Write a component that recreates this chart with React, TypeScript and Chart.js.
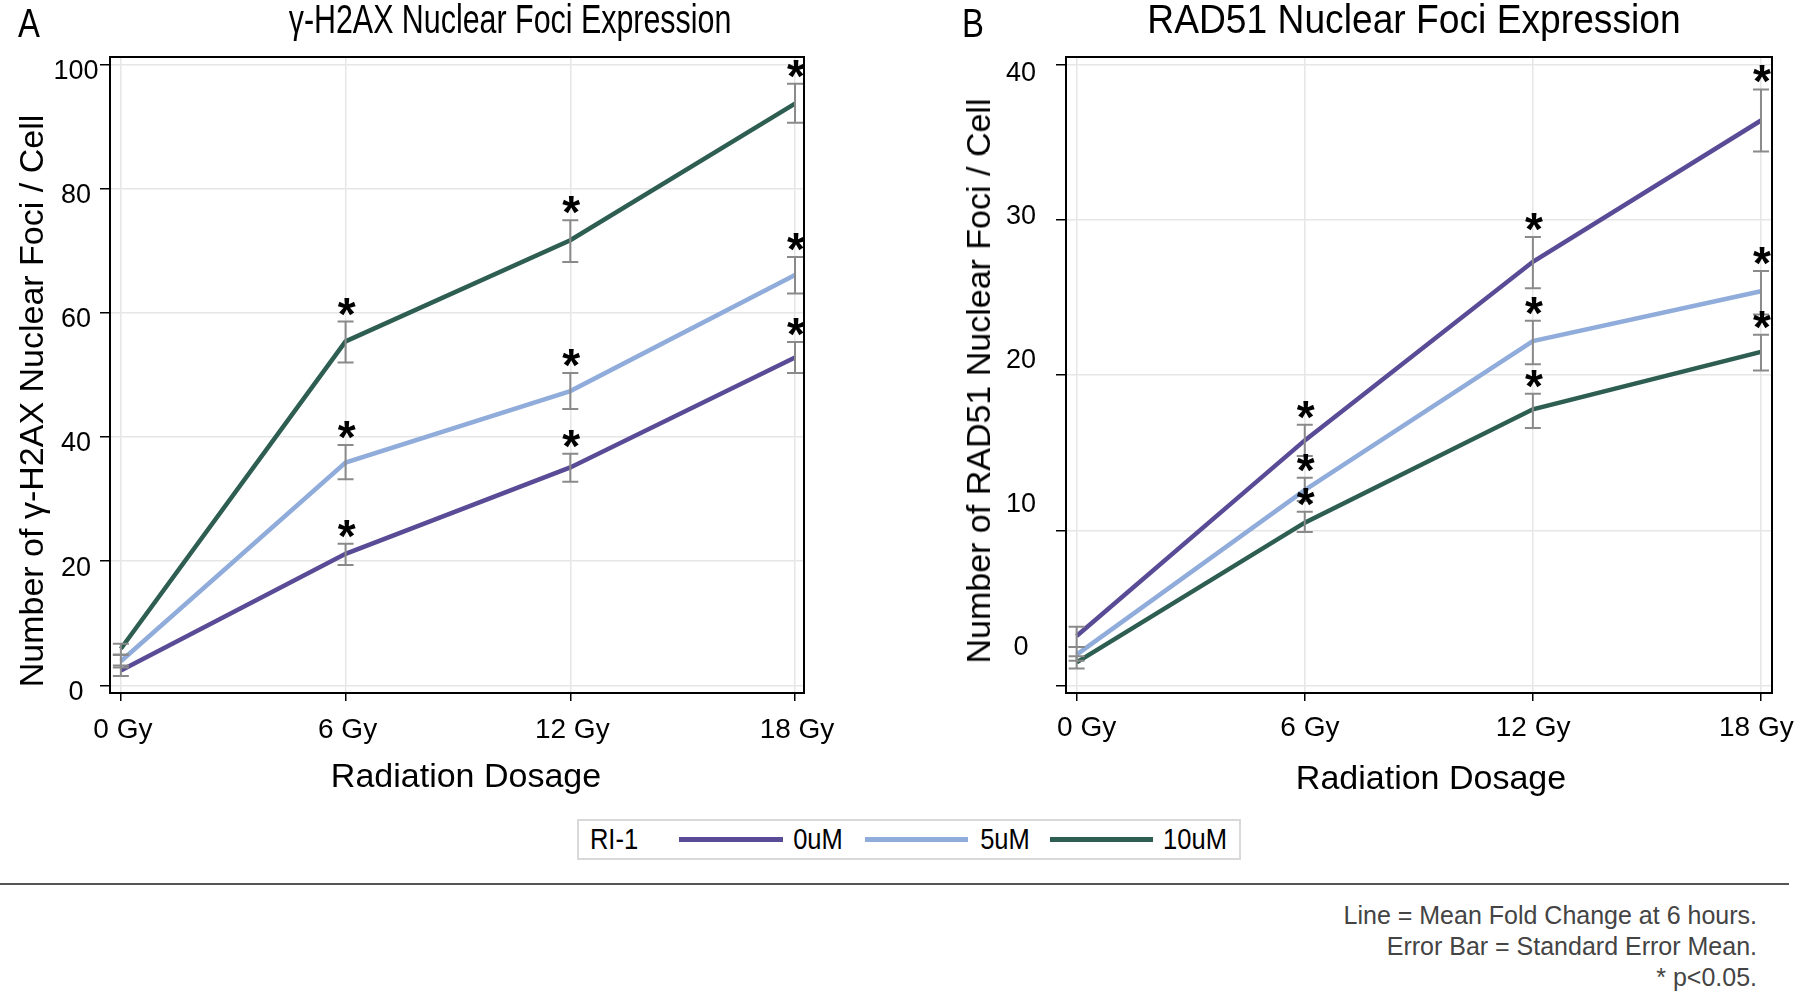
import React, { useEffect, useRef } from "react";
import { Chart, registerables } from "chart.js";

Chart.register(...registerables);

// ---------- data ----------
const doses = [0, 6, 12, 18];
const doseLabels = ["0 Gy", "6 Gy", "12 Gy", "18 Gy"];
const seriesNames = ["0uM", "5uM", "10uM"];
const seriesColors = ["#5a4b97", "#90acdb", "#2d5e51"];
const significant = [false, true, true, true];

// Panel A: gamma-H2AX foci per cell
const h2axMean0 = [2.4, 21.2, 35.1, 52.8];
const h2axLow0 = [1.5, 19.4, 32.8, 50.3];
const h2axHigh0 = [3.2, 22.8, 37.3, 55.3];
const h2axMean5 = [3.9, 35.9, 47.4, 66.1];
const h2axLow5 = [2.9, 33.2, 44.5, 63.1];
const h2axHigh5 = [4.9, 38.7, 50.3, 69.0];
const h2axMean10 = [5.9, 55.4, 71.7, 93.7];
const h2axLow10 = [5.0, 52.0, 68.2, 90.6];
const h2axHigh10 = [6.7, 58.6, 74.9, 96.9];
const h2axTicks = [0, 20, 40, 60, 80, 100];

// Panel B: RAD51 foci per cell
const radMean0 = [3.2, 15.8, 27.3, 36.4];
const radLow0 = [2.5, 14.8, 25.6, 34.4];
const radHigh0 = [3.8, 16.8, 28.9, 38.4];
const radMean5 = [2.0, 12.6, 22.2, 25.4];
const radLow5 = [1.6, 11.9, 20.7, 23.9];
const radHigh5 = [2.5, 13.4, 23.5, 26.7];
const radMean10 = [1.5, 10.5, 17.8, 21.5];
const radLow10 = [1.1, 9.9, 16.6, 20.3];
const radHigh10 = [1.9, 11.2, 18.8, 22.6];
const radTicks = [0, 10, 20, 30, 40];

const FONT = '"Liberation Sans", Arial, Helvetica, sans-serif';

// ---------- plugin: error bars, stars, frame, tick labels ----------
const panelPlugin = {
  id: "panelDeco",
  afterDatasetsDraw(chart: any) {
    const ctx = chart.ctx;
    const xs = chart.scales.x;
    const ys = chart.scales.y;
    chart.data.datasets.forEach((ds: any) => {
      doses.forEach((d, j) => {
        const x = xs.getPixelForValue(d);
        const yl = ys.getPixelForValue(ds.errLow[j]);
        const yh = ys.getPixelForValue(ds.errHigh[j]);
        ctx.save();
        ctx.strokeStyle = "#8a8a8a";
        ctx.lineWidth = 2;
        ctx.beginPath();
        ctx.moveTo(x, yl);
        ctx.lineTo(x, yh);
        ctx.moveTo(x - 8, yl);
        ctx.lineTo(x + 8, yl);
        ctx.moveTo(x - 8, yh);
        ctx.lineTo(x + 8, yh);
        ctx.stroke();
        if (significant[j]) {
          ctx.fillStyle = "#000";
          ctx.font = `bold 46px ${FONT}`;
          ctx.textAlign = "center";
          ctx.textBaseline = "alphabetic";
          ctx.fillText("*", x + 1, yh + 8);
        }
        ctx.restore();
      });
    });
  },
  afterDraw(chart: any, _args: any, opts: any) {
    const ctx = chart.ctx;
    const a = chart.chartArea;
    const xs = chart.scales.x;
    const ys = chart.scales.y;
    ctx.save();
    ctx.strokeStyle = "#000";
    ctx.lineWidth = 2;
    ctx.strokeRect(a.left, a.top, a.right - a.left, a.bottom - a.top);
    ctx.fillStyle = "#000";
    ctx.textAlign = "center";
    ctx.textBaseline = "middle";
    ctx.font = `27px ${FONT}`;
    (opts.yTicks as number[]).forEach((v) => {
      const py = ys.getPixelForValue(v);
      const ly = a.top + opts.yScaleK * (py - a.top) + opts.yShift;
      ctx.fillText(String(v), a.left + opts.yLabelDx, ly);
    });
    ctx.font = `28px ${FONT}`;
    doses.forEach((d, j) => {
      const px = xs.getPixelForValue(d);
      const lx = a.left + opts.xScaleK * (px - a.left) + opts.xShift;
      ctx.fillText(doseLabels[j], lx, a.bottom + opts.xLabelDy);
    });
    ctx.restore();
  },
};

type Panel = {
  means: number[][];
  lows: number[][];
  highs: number[][];
  yTicks: number[];
  yMin: number;
  yMax: number;
  xMin: number;
  xMax: number;
  left: number;
  width: number;
  height: number;
  yAxisWidth: number;
  padRight: number;
  deco: any;
};

function buildConfig(p: Panel): any {
  const areaTop = 57;
  const areaBottom = 693;
  return {
    type: "line",
    data: {
      datasets: p.means.map((m, i) => ({
        label: seriesNames[i],
        data: doses.map((d, j) => ({ x: d, y: m[j] })),
        borderColor: seriesColors[i],
        backgroundColor: seriesColors[i],
        borderWidth: 4.5,
        pointRadius: 0,
        pointHoverRadius: 0,
        tension: 0,
        fill: false,
        errLow: p.lows[i],
        errHigh: p.highs[i],
      })),
    },
    options: {
      responsive: false,
      animation: false,
      events: [],
      layout: { padding: { top: areaTop, left: 0, right: p.padRight, bottom: 0 } },
      plugins: {
        legend: { display: false },
        tooltip: { enabled: false },
        title: { display: false },
        panelDeco: p.deco,
      },
      scales: {
        x: {
          type: "linear",
          min: p.xMin,
          max: p.xMax,
          afterBuildTicks: (s: any) => {
            s.ticks = doses.map((v) => ({ value: v }));
          },
          afterFit: (s: any) => {
            s.height = p.height - areaBottom;
          },
          ticks: { display: false },
          border: { display: false },
          grid: {
            color: "#e6e6e6",
            lineWidth: 1.5,
            drawTicks: true,
            tickLength: 8,
            tickColor: "#000",
            tickWidth: 1.5,
          },
        },
        y: {
          type: "linear",
          min: p.yMin,
          max: p.yMax,
          afterBuildTicks: (s: any) => {
            s.ticks = p.yTicks.map((v) => ({ value: v }));
          },
          afterFit: (s: any) => {
            s.width = p.yAxisWidth;
          },
          ticks: { display: false },
          border: { display: false },
          grid: {
            color: "#e6e6e6",
            lineWidth: 1.5,
            drawTicks: true,
            tickLength: 10,
            tickColor: "#000",
            tickWidth: 1.5,
          },
        },
      },
    },
    plugins: [panelPlugin],
  };
}

function PanelChart({ p }: { p: Panel }) {
  const ref = useRef<HTMLCanvasElement>(null);
  useEffect(() => {
    const chart = new Chart(ref.current as HTMLCanvasElement, buildConfig(p));
    return () => chart.destroy();
  }, []);
  return (
    <canvas
      ref={ref}
      width={p.width}
      height={p.height}
      style={{ position: "absolute", left: p.left, top: 0, width: p.width, height: p.height }}
    />
  );
}

const panelA: Panel = {
  means: [h2axMean0, h2axMean5, h2axMean10],
  lows: [h2axLow0, h2axLow5, h2axLow10],
  highs: [h2axHigh0, h2axHigh5, h2axHigh10],
  yTicks: h2axTicks,
  yMin: -1.22,
  yMax: 101.2,
  xMin: -0.29,
  xMax: 18.24,
  left: 0,
  width: 880,
  height: 760,
  yAxisWidth: 110,
  padRight: 76,
  deco: { yTicks: h2axTicks, yScaleK: 1, yShift: 7, yLabelDx: -34, xScaleK: 1, xShift: 2, xLabelDy: 37 },
};

const panelB: Panel = {
  means: [radMean0, radMean5, radMean10],
  lows: [radLow0, radLow5, radLow10],
  highs: [radHigh0, radHigh5, radHigh10],
  yTicks: radTicks,
  yMin: -0.47,
  yMax: 40.49,
  xMin: -0.28,
  xMax: 18.29,
  left: 900,
  width: 900,
  height: 760,
  yAxisWidth: 166,
  padRight: 28,
  deco: { yTicks: radTicks, yScaleK: 0.925, yShift: 9.3, yLabelDx: -45, xScaleK: 0.9787, xShift: 10.2, xLabelDy: 35 },
};

const abs = (x: number, y: number, extra: any = {}): any => ({
  position: "absolute",
  left: x,
  top: y,
  transform: "translate(-50%, -50%)",
  whiteSpace: "nowrap",
  lineHeight: 1,
  fontFamily: FONT,
  color: "#000",
  ...extra,
});

function Narrow({ x, y, size, text, k = 0.82 }: { x: number; y: number; size: number; text: string; k?: number }) {
  return (
    <div style={abs(x, y, { fontSize: size, transform: `translate(-50%, -50%) scaleX(${k})` })}>{text}</div>
  );
}

function LegendLine({ x, w, color }: { x: number; w: number; color: string }) {
  return <div style={{ position: "absolute", left: x, top: 16, width: w, height: 5, background: color }} />;
}

export default function App() {
  const legendLeft = 577;
  return (
    <div
      style={{
        position: "absolute",
        left: 0,
        top: 0,
        width: 1800,
        height: 992,
        background: "#fff",
        overflow: "hidden",
        fontFamily: FONT,
      }}
    >
      <PanelChart p={panelA} />
      <PanelChart p={panelB} />

      <Narrow x={29} y={23} size={40} text="A" />
      <Narrow x={510} y={19} size={40} k={0.76} text="γ-H2AX Nuclear Foci Expression" />
      <Narrow x={973} y={23} size={40} text="B" />
      <Narrow x={1414} y={19} size={40} k={0.93} text="RAD51 Nuclear Foci Expression" />

      <div style={abs(31, 401, { fontSize: 34, transform: "translate(-50%, -50%) rotate(-90deg)" })}>
        Number of γ-H2AX Nuclear Foci / Cell
      </div>
      <div style={abs(978, 381, { fontSize: 34, transform: "translate(-50%, -50%) rotate(-90deg)" })}>
        Number of RAD51 Nuclear Foci / Cell
      </div>
      <div style={abs(466, 775, { fontSize: 34 })}>Radiation Dosage</div>
      <div style={abs(1431, 777, { fontSize: 34 })}>Radiation Dosage</div>

      <div
        style={{
          position: "absolute",
          left: legendLeft,
          top: 819,
          width: 664,
          height: 41,
          border: "2px solid #d9d9d9",
          boxSizing: "border-box",
        }}
      >
        <Narrow x={612 - legendLeft} y={18} size={29} k={0.88} text="RI-1" />
        <LegendLine x={677 - legendLeft} w={104} color={seriesColors[0]} />
        <Narrow x={816 - legendLeft} y={18} size={29} k={0.88} text={seriesNames[0]} />
        <LegendLine x={863 - legendLeft} w={103} color={seriesColors[1]} />
        <Narrow x={1003 - legendLeft} y={18} size={29} k={0.88} text={seriesNames[1]} />
        <LegendLine x={1048 - legendLeft} w={103} color={seriesColors[2]} />
        <Narrow x={1193 - legendLeft} y={18} size={29} k={0.88} text={seriesNames[2]} />
      </div>

      <div style={{ position: "absolute", left: 0, top: 883, width: 1789, height: 2, background: "#555" }} />

      <div
        style={{
          position: "absolute",
          right: 43,
          top: 900,
          textAlign: "right",
          fontSize: 25,
          lineHeight: "31px",
          color: "#444",
          fontFamily: FONT,
          whiteSpace: "nowrap",
        }}
      >
        <div>Line = Mean Fold Change at 6 hours.</div>
        <div>Error Bar = Standard Error Mean.</div>
        <div>* p&lt;0.05.</div>
      </div>
    </div>
  );
}
